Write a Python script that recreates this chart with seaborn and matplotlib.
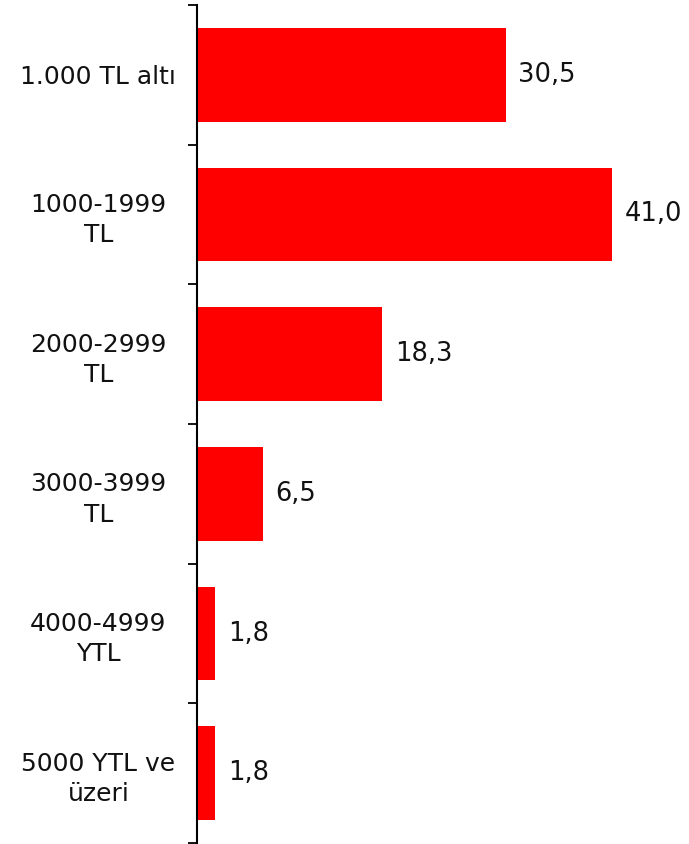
import matplotlib
matplotlib.use("Agg")
import matplotlib.pyplot as plt
import seaborn as sns
import pandas as pd

categories = ["1.000 TL altı", "1000-1999\nTL", "2000-2999\nTL", "3000-3999\nTL",
              "4000-4999\nYTL", "5000 YTL ve\nüzeri"]
values = [30.5, 41.0, 18.3, 6.5, 1.8, 1.8]
value_labels = ["30,5", "41,0", "18,3", "6,5", "1,8", "1,8"]

df = pd.DataFrame({"cat": categories, "val": values})

sns.set_theme(style="white")
plt.rcParams["font.family"] = ["DejaVu Sans"]

W, H = 689, 844
fig = plt.figure(figsize=(W / 100, H / 100), dpi=100)
ax = fig.add_axes([197 / W, 1 / H, 492 / W, 838 / H])

sns.barplot(data=df, y="cat", x="val", orient="h", color="#FF0000",
            saturation=1, width=0.67, ax=ax, linewidth=0)

ax.set_xlim(0, 492 / 10.12)
ax.set_ylim(len(categories) - 0.5, -0.5)
ax.set_xlabel("")
ax.set_ylabel("")
ax.set_xticks([])

for s in ["top", "right", "bottom"]:
    ax.spines[s].set_visible(False)
ax.spines["left"].set_color("#000000")
ax.spines["left"].set_linewidth(1.5)

# boundary ticks (major) and centered labels (minor)
ax.set_yticks([i - 0.5 for i in range(len(categories) + 1)])
ax.set_yticklabels([])
ax.tick_params(axis="y", which="major", direction="out", length=6.5, width=1.3,
               color="#000000", left=True)
ax.set_yticks(range(len(categories)), minor=True)
ax.set_yticklabels(categories, minor=True, fontsize=18, color="#111111",
                   ha="center", multialignment="center", linespacing=1.33)
ax.tick_params(axis="y", which="minor", length=0, pad=71)

for i, (v, lab) in enumerate(zip(values, value_labels)):
    ax.annotate(lab, xy=(v, i), xytext=(9, 0), textcoords="offset points",
                va="center", ha="left", fontsize=18.5, color="#111111")

fig.savefig("out.png", dpi=100)
